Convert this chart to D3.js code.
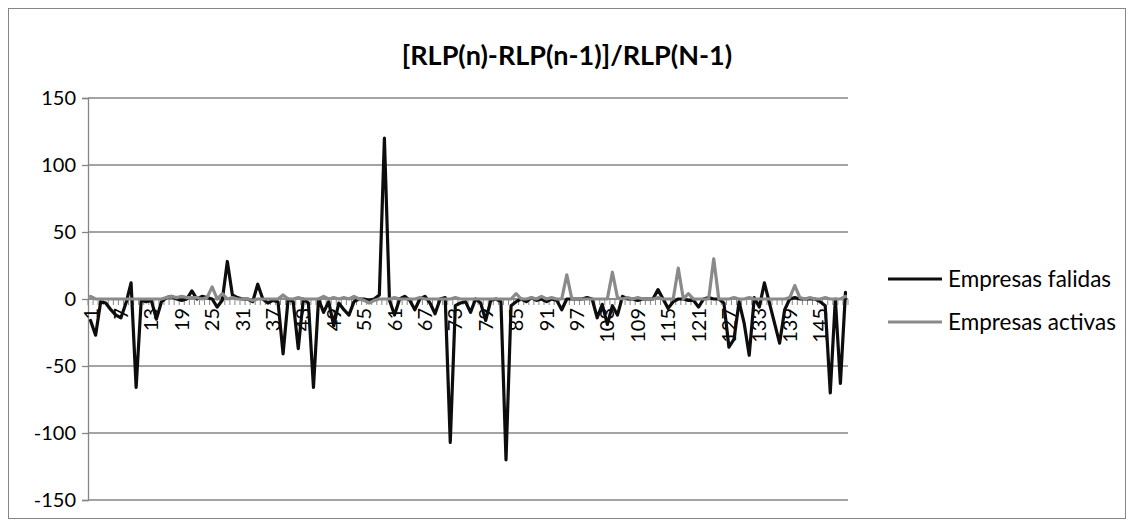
<!DOCTYPE html>
<html>
<head>
<meta charset="utf-8">
<script src="https://cdn.jsdelivr.net/npm/d3@7"></script>
<style>
  body { margin: 0; background: #fff; }
  svg { display: block; font-family: Lato, "Open Sans", sans-serif; }
</style>
</head>
<body>
<svg id="chart"></svg>
<script>
// categories 1..150 (period index)
const categories = d3.range(1, 151);

const seriesNames = ["Empresas falidas", "Empresas activas"];

const falidas = [
  -16, -27, -2, -3, -8, -12, -14, -3, 12, -66,
  -1, -2, -1, -15, -2, 1, 2, 0, -1, 0,
  6, 0, 2, 1, 0, -6, -1, 28, 3, 1,
  0, 0, -2, 11, 0, -3, -1, -2, -41, 0,
  -2, -37, 0, -3, -66, 0, -10, -2, -20, -3,
  -8, -12, -2, 0, 0, -1, 0, 3, 120, -1,
  -12, 0, 2, -1, -8, 0, 2, -3, -11, 0,
  1, -107, -5, -3, -2, -10, 0, -3, -16, -1,
  0, -2, -120, -5, -2, 0, -2, 1, -1, 0,
  -2, 0, -1, -8, 0, 0, 0, 0, 1, 0,
  -14, -4, -19, -5, -12, 2, 0, 0, -1, 0,
  0, 0, 7, 0, -7, -2, 0, 0, -1, -1,
  -6, 0, 1, 0, 0, -3, -36, -30, -2, -18,
  -42, 1, -6, 12, -3, -18, -33, -8, 0, 1,
  0, 0, 0, 0, -2, -5, -70, 0, -63, 5
];

const activas = [
  2, 0, 0, 0, 0, 0, 0, 0, 0, 0,
  0, 0, 0, 0, 0, 1, 2, 1, 2, 1,
  1, 1, 0, 1, 9, 0, 4, 0, 1, 0,
  0, 0, -1, 0, 0, 0, 0, 0, 3, 0,
  0, 1, 0, 0, 0, 0, 2, 0, 1, 0,
  1, 0, 2, 0, -1, -3, -1, 0, 0, 0,
  1, 0, 0, 0, 0, 1, 0, 0, 0, 0,
  0, 0, 1, 0, 0, 0, 0, 0, 0, 0,
  0, 0, 0, 0, 4, 0, 0, 1, 0, 2,
  0, 1, 0, 0, 18, 0, 0, 0, 0, 0,
  0, 0, 0, 20, 1, 0, 1, 0, 1, 0,
  0, 0, 1, 0, 0, 0, 23, 0, 4, 0,
  0, 0, 0, 30, 0, 0, 0, 1, 0, 0,
  1, 0, 0, 0, 0, 0, 0, 0, 1, 10,
  1, 0, 1, 0, 0, 1, 0, 0, 0, 2
];

const yTicks = [-150, -100, -50, 0, 50, 100, 150];
const title = "[RLP(n)-RLP(n-1)]/RLP(N-1)";

const W = 1134, H = 527;
const plot = { left: 88, right: 848, top: 98, bottom: 500 };
const gridColor = "#868686";

const svg = d3.select("#chart").attr("width", W).attr("height", H);

// outer chart border
svg.append("rect")
    .attr("x", 8.5).attr("y", 8.5)
    .attr("width", W - 17).attr("height", H - 17)
    .attr("fill", "#fff")
    .attr("stroke", gridColor)
    .attr("stroke-width", 1);

svg.append("text")
    .attr("x", 567).attr("y", 65)
    .attr("text-anchor", "middle")
    .attr("font-size", 27)
    .attr("font-weight", "bold")
    .text(title);

const x = d3.scaleBand().domain(categories).range([plot.left, plot.right]).paddingInner(0).paddingOuter(0);
const y = d3.scaleLinear().domain([-150, 150]).range([plot.bottom, plot.top]);
const cx = d => x(d) + x.bandwidth() / 2;

// horizontal gridlines
svg.append("g")
    .selectAll("line")
    .data(yTicks)
    .join("line")
    .attr("x1", plot.left).attr("x2", plot.right)
    .attr("y1", d => y(d)).attr("y2", d => y(d))
    .attr("stroke", gridColor)
    .attr("stroke-width", 1.3);

// y axis (plain hyphen for negatives, like the original)
const yAxis = svg.append("g")
    .attr("transform", `translate(${plot.left},0)`)
    .call(d3.axisLeft(y).tickValues(yTicks).tickFormat(d => String(d)).tickSize(6).tickPadding(6));
yAxis.select(".domain").attr("stroke", gridColor).attr("stroke-width", 1.3);
yAxis.selectAll(".tick line").attr("stroke", gridColor).attr("stroke-width", 1.3);
yAxis.selectAll(".tick text")
    .attr("font-size", 20)
    .attr("font-family", "Lato, sans-serif")
    .attr("fill", "#000");

// category axis at value 0
const y0 = y(0);
svg.append("line")
    .attr("x1", plot.left).attr("x2", plot.right)
    .attr("y1", y0).attr("y2", y0)
    .attr("stroke", gridColor).attr("stroke-width", 1.3);

svg.append("g")
    .selectAll("line")
    .data(categories.concat([null]))
    .join("line")
    .attr("x1", d => d === null ? plot.right : x(d))
    .attr("x2", d => d === null ? plot.right : x(d))
    .attr("y1", y0).attr("y2", y0 + 6)
    .attr("stroke", gridColor).attr("stroke-width", 1);

svg.append("g")
    .selectAll("text")
    .data(categories.filter((d, i) => i % 6 === 0))
    .join("text")
    .attr("transform", d => `translate(${cx(d) + 7},${y0 + 9}) rotate(-90)`)
    .attr("text-anchor", "end")
    .attr("font-size", 20)
    .attr("fill", "#000")
    .text(d => d);

// series lines
const colors = ["#0d0d0d", "#8a8a8a"];
const allSeries = [falidas, activas];

const line = d3.line()
    .x((d, i) => cx(categories[i]))
    .y(d => y(d));

svg.append("g")
    .selectAll("path")
    .data(allSeries)
    .join("path")
    .attr("d", d => line(d))
    .attr("fill", "none")
    .attr("stroke", (d, i) => colors[i])
    .attr("stroke-width", 3.2)
    .attr("stroke-linejoin", "round")
    .attr("stroke-linecap", "round");

// legend
const legend = svg.append("g")
    .selectAll("g")
    .data(seriesNames)
    .join("g")
    .attr("transform", (d, i) => `translate(888,${279 + i * 43})`);

legend.append("line")
    .attr("x1", 0).attr("x2", 54)
    .attr("stroke", (d, i) => colors[i])
    .attr("stroke-width", 3.2);

legend.append("text")
    .attr("x", 60).attr("dy", "0.36em")
    .attr("font-size", 22.5)
    .attr("fill", "#000")
    .text(d => d);
</script>
</body>
</html>
